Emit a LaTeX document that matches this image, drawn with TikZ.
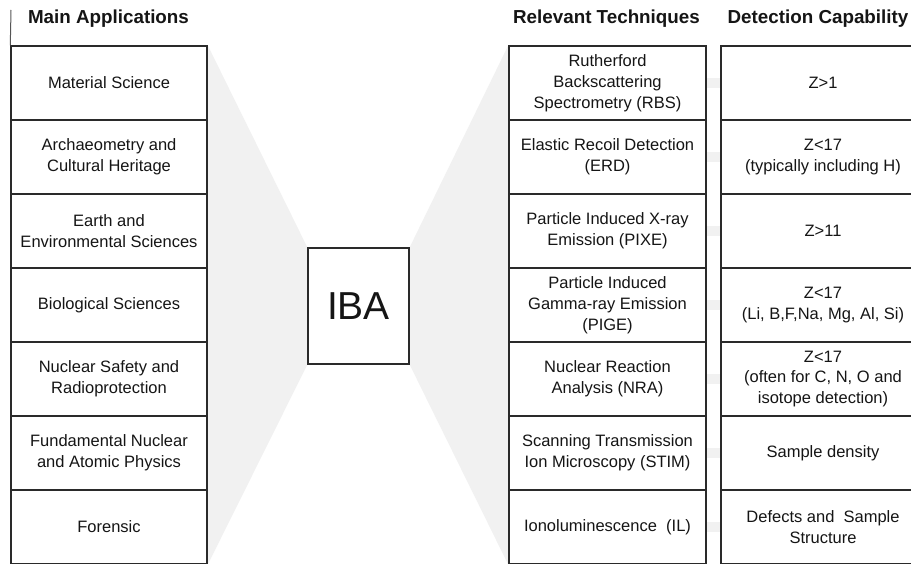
\documentclass[tikz,border=0pt]{standalone}
\usepackage{fontspec}
\setmainfont{Liberation Sans}
\usetikzlibrary{backgrounds}
\definecolor{ink}{HTML}{151515}
\definecolor{edge}{HTML}{2A2A2A}
\definecolor{shade}{HTML}{F1F1F1}
\tikzset{
  cell/.style={draw=edge, line width=1.4pt, fill=white, inner sep=0pt, align=center, text=ink,
    minimum height=74pt, font=\fontsize{16.5}{20.8}\selectfont},
  appcell/.style={cell, minimum width=196pt},
  techcell/.style={cell, minimum width=197pt},
  detcell/.style={cell, minimum width=204pt},
  header/.style={font=\fontsize{18.8}{20}\selectfont\bfseries, text=ink, inner sep=0pt},
  wedge/.style={fill=shade},
  link/.style={draw=shade, line width=10pt},
}
\begin{document}
\begin{tikzpicture}[x=1pt,y=-1pt]
\useasboundingbox (0,0) rectangle (911,564);
\clip (0,0) rectangle (911,563.2);

% headers
\node[header] (h1) at (108.5,19) {Main Applications};
\node[header] (h2) at (606.5,19) {Relevant Techniques};
\node[header] (h3) at (818,19) {Detection Capability};

% applications
\node[appcell] (a1) at (109,83)  {Material Science};
\node[appcell] (a2) at (109,157) {Archaeometry and\\Cultural Heritage};
\node[appcell] (a3) at (109,231) {Earth and\\Environmental Sciences};
\node[appcell] (a4) at (109,305) {Biological Sciences};
\node[appcell] (a5) at (109,379) {Nuclear Safety and\\Radioprotection};
\node[appcell] (a6) at (109,453) {Fundamental Nuclear\\and Atomic Physics};
\node[appcell] (a7) at (109,527) {Forensic};

% IBA
\node[draw=edge, line width=1.4pt, fill=white, minimum width=101pt, minimum height=116pt, inner sep=0pt,
  text=ink, font=\fontsize{39}{40}\selectfont] (iba) at (358.5,306) {IBA};

% techniques
\node[techcell] (t1) at (607.5,83)  {Rutherford\\Backscattering\\Spectrometry (RBS)};
\node[techcell] (t2) at (607.5,157) {Elastic Recoil Detection\\(ERD)};
\node[techcell] (t3) at (607.5,231) {Particle Induced X-ray\\Emission (PIXE)};
\node[techcell] (t4) at (607.5,305) {Particle Induced\\Gamma-ray Emission\\(PIGE)};
\node[techcell] (t5) at (607.5,379) {Nuclear Reaction\\Analysis (NRA)};
\node[techcell] (t6) at (607.5,453) {Scanning Transmission\\Ion Microscopy (STIM)};
\node[techcell] (t7) at (607.5,527) {Ionoluminescence\ \ (IL)};

% detection
\node[detcell] (d1) at (823,83)  {Z>1};
\node[detcell] (d2) at (823,157) {Z<17\\(typically including H)};
\node[detcell] (d3) at (823,231) {Z>11};
\node[detcell] (d4) at (823,305) {Z<17\\(Li, B,F,Na, Mg, Al, Si)};
\node[detcell] (d5) at (823,379) {Z<17\\(often for C, N, O and\\isotope detection)};
\node[detcell] (d6) at (823,453) {Sample density};
\node[detcell] (d7) at (823,527) {Defects and\ \ Sample\\Structure};

\coordinate (topl) at (11,10);
\draw[edge!80, line width=1pt] (topl) -- (a1.north west);

\begin{pgfonlayer}{background}
  \fill[white] (0,0) rectangle (911,564);
  \fill[wedge] (a1.north east) -- (iba.north west) -- (iba.south west) -- (a7.south east) -- cycle;
  \fill[wedge] (t1.north west) -- (iba.north east) -- (iba.south east) -- (t7.south west) -- cycle;
  \foreach \i in {1,...,7} { \draw[link] (t\i.east) -- (d\i.west); }
\end{pgfonlayer}
\end{tikzpicture}
\end{document}
